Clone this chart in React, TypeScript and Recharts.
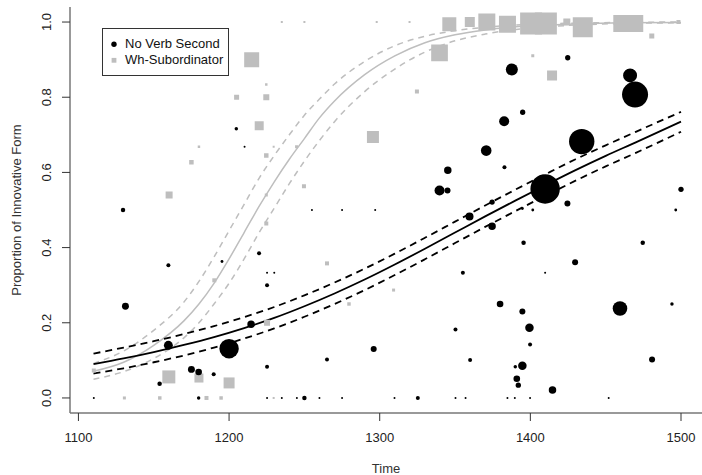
import React from 'react';
import { ComposedChart, Scatter, Line, XAxis, YAxis, ZAxis, Legend } from 'recharts';

const FONT = '"Liberation Sans", Arial, Helvetica, sans-serif';

const xTicks = [1100, 1200, 1300, 1400, 1500];
const yTicks = [0, 0.2, 0.4, 0.6, 0.8, 1.0];
const seriesNames = ['No Verb Second', 'Wh-Subordinator'];

// [year, proportion, tokens]
const noV2Points: [number, number, number][] = [
  [1129.6, 0.5, 5], [1204.8, 0.716, 3], [1131.2, 0.244, 12], [1159.7, 0.353, 4],
  [1195.3, 0.363, 2], [1219.9, 0.385, 4], [1225.2, 0.333, 1], [1230.0, 0.333, 1],
  [1225.2, 0.3, 4], [1159.7, 0.14, 20], [1214.6, 0.196, 14], [1200.0, 0.131, 94],
  [1175.0, 0.076, 12], [1179.8, 0.069, 11], [1189.8, 0.063, 4], [1153.9, 0.038, 5],
  [1225.2, 0.083, 4], [1265.0, 0.102, 4], [1255.0, 0.5, 1], [1275.0, 0.5, 1],
  [1210.3, 0.668, 1], [1297.0, 0.5, 1], [1296.0, 0.13, 9], [1355.2, 0.333, 4],
  [1350.3, 0.182, 4], [1360.0, 0.101, 4], [1379.9, 0.25, 11], [1394.7, 0.23, 9],
  [1399.4, 0.187, 18], [1399.8, 0.142, 4], [1394.7, 0.086, 18], [1390.0, 0.083, 3],
  [1391.0, 0.051, 11], [1392.0, 0.034, 7], [1414.7, 0.021, 14], [1459.5, 0.238, 53],
  [1494.0, 0.25, 3], [1480.8, 0.102, 9], [1429.7, 0.361, 9], [1409.8, 0.333, 1],
  [1395.5, 0.413, 5], [1474.6, 0.413, 5], [1374.6, 0.457, 14], [1359.6, 0.483, 16],
  [1374.6, 0.521, 7], [1394.7, 0.504, 2], [1401.6, 0.5, 2], [1424.6, 0.517, 9],
  [1409.8, 0.556, 216], [1500.0, 0.555, 7], [1496.5, 0.5, 2], [1339.7, 0.552, 25],
  [1345.0, 0.552, 9], [1345.2, 0.606, 14], [1382.8, 0.614, 4], [1370.7, 0.658, 28],
  [1434.1, 0.682, 161], [1382.6, 0.736, 25], [1394.9, 0.76, 7], [1469.5, 0.807, 169],
  [1466.2, 0.858, 49], [1387.7, 0.874, 36], [1424.8, 0.905, 7],
  [1110.2, 0, 1], [1179.8, 0, 3], [1225.2, 0, 1], [1235.0, 0, 1], [1245.0, 0, 1],
  [1250.0, 0, 5], [1260.0, 0, 1], [1275.0, 0, 1], [1309.8, 0, 1], [1325.3, 0, 4],
  [1350.3, 0, 1], [1357.0, 0, 1], [1384.8, 0, 1], [1389.7, 0, 1], [1399.8, 0, 1],
  [1452.0, 0, 1],
];

const whPoints: [number, number, number][] = [
  [1215.0, 0.9, 225], [1205.0, 0.8, 25], [1224.7, 0.8, 36], [1224.7, 0.834, 6],
  [1220.0, 0.724, 81], [1180.0, 0.668, 6], [1175.0, 0.627, 20], [1160.2, 0.54, 49],
  [1224.7, 0.645, 20], [1249.7, 0.563, 16], [1244.8, 0.668, 9], [1224.7, 0.54, 9],
  [1224.7, 0.464, 16], [1229.6, 0.668, 4], [1235.0, 1, 4], [1250.0, 1, 4],
  [1298.0, 1, 4], [1319.8, 1, 4], [1190.2, 0.313, 16], [1265.0, 0.358, 16],
  [1279.6, 0.25, 12], [1309.2, 0.287, 9], [1225.2, 0.2, 36], [1160.0, 0.056, 169],
  [1180.0, 0.053, 81], [1200.0, 0.04, 121], [1110.2, 0.073, 16],
  [1130.5, 0, 9], [1154.0, 0, 12], [1185.0, 0, 16], [1194.7, 0, 12], [1229.6, 0, 4],
  [1339.7, 0.918, 279], [1401.6, 0.91, 9], [1414.4, 0.858, 100], [1324.7, 0.815, 16],
  [1295.5, 0.694, 144], [1480.6, 0.963, 25], [1346.2, 0.994, 196], [1359.8, 1.0, 100],
  [1371.1, 1.0, 289], [1384.8, 0.994, 289], [1400.5, 0.996, 484], [1410.3, 0.996, 484],
  [1424.2, 1.0, 49], [1434.8, 0.986, 400], [1460.7, 0.996, 289], [1469.3, 0.996, 289],
  [1498.3, 1.0, 16],
];

// fitted curves with confidence band
const noV2Years = [1110, 1130, 1150, 1170, 1190, 1210, 1230, 1250, 1270, 1290, 1310, 1330, 1350, 1370, 1390, 1410, 1430, 1450, 1470, 1500];
const noV2Fit = [0.09, 0.105, 0.122, 0.141, 0.162, 0.186, 0.213, 0.244, 0.278, 0.315, 0.355, 0.397, 0.44, 0.483, 0.525, 0.566, 0.606, 0.644, 0.68, 0.735];
const noV2Lo = [0.065, 0.079, 0.095, 0.113, 0.134, 0.158, 0.185, 0.216, 0.25, 0.287, 0.327, 0.369, 0.412, 0.455, 0.497, 0.538, 0.578, 0.616, 0.652, 0.708];
const noV2Hi = [0.118, 0.134, 0.151, 0.17, 0.191, 0.215, 0.242, 0.273, 0.307, 0.344, 0.384, 0.426, 0.469, 0.512, 0.554, 0.595, 0.635, 0.672, 0.708, 0.761];

const whYears = [1110, 1130, 1150, 1170, 1180, 1190, 1200, 1210, 1220, 1230, 1240, 1250, 1260, 1270, 1290, 1310, 1330, 1350, 1370, 1400, 1430, 1460, 1500];
const whFit = [0.071, 0.095, 0.14, 0.205, 0.25, 0.305, 0.37, 0.44, 0.51, 0.575, 0.635, 0.69, 0.745, 0.79, 0.86, 0.91, 0.945, 0.966, 0.979, 0.99, 0.995, 0.998, 0.999];
const whLo = [0.05, 0.07, 0.105, 0.16, 0.2, 0.25, 0.305, 0.37, 0.44, 0.505, 0.57, 0.63, 0.685, 0.735, 0.815, 0.875, 0.92, 0.95, 0.968, 0.984, 0.992, 0.996, 0.998];
const whHi = [0.092, 0.125, 0.18, 0.255, 0.31, 0.375, 0.445, 0.515, 0.585, 0.645, 0.7, 0.752, 0.795, 0.835, 0.895, 0.937, 0.962, 0.977, 0.986, 0.994, 0.997, 0.999, 1.0];

const noV2Data = noV2Points.map(([year, p, n]) => ({ year, p, n }));
const whData = whPoints.map(([year, p, n]) => ({ year, p, n }));
const noV2Curve = noV2Years.map((year, i) => ({ year, fit: noV2Fit[i], lo: noV2Lo[i], hi: noV2Hi[i] }));
const whCurve = whYears.map((year, i) => ({ year, fit: whFit[i], lo: whLo[i], hi: whHi[i] }));

const XTick = (props: any) => {
  const { x, y, payload } = props;
  return (
    <text x={x} y={y + 19} textAnchor="middle" fontSize={13} fontFamily={FONT} fill="#222">
      {payload.value}
    </text>
  );
};

const YTick = (props: any) => {
  const { x, y, payload } = props;
  const bx = x - 8.7;
  return (
    <text x={bx} y={y} textAnchor="middle" fontSize={13} fontFamily={FONT} fill="#222"
      transform={`rotate(-90, ${bx}, ${y})`}>
      {payload.value.toFixed(1)}
    </text>
  );
};

const XTitle = () => (
  <text x={386} y={473} textAnchor="middle" fontSize={13} fontFamily={FONT} fill="#333">Time</text>
);

const YTitle = () => (
  <text x={21} y={210} textAnchor="middle" fontSize={13} fontFamily={FONT} fill="#333"
    transform="rotate(-90, 21, 210)">
    Proportion of Innovative Form
  </text>
);

const LegendBox = () => (
  <div style={{ position: 'relative', width: 127, height: 48, boxSizing: 'border-box', border: '1px solid #333', background: '#fff', fontFamily: FONT, fontSize: 13, color: '#111' }}>
    <svg width={12} height={40} style={{ position: 'absolute', left: 5, top: 2 }}>
      <circle cx={6} cy={13.3} r={2.7} fill="#000" />
      <rect x={3.6} y={26.9} width={4.8} height={4.8} fill="#bebebe" />
    </svg>
    <div style={{ position: 'absolute', left: 22, top: 7, lineHeight: '16px', whiteSpace: 'nowrap' }}>{seriesNames[0]}</div>
    <div style={{ position: 'absolute', left: 22, top: 23, lineHeight: '16px', whiteSpace: 'nowrap' }}>{seriesNames[1]}</div>
  </div>
);

export default function App() {
  return (
    <div style={{ position: 'absolute', left: 0, top: 0, width: 702, height: 475, overflow: 'hidden', background: '#fff' }}>
      <ComposedChart width={720} height={475} margin={{ top: 7, right: 15.5, left: 10, bottom: 0 }}>
        <XAxis xAxisId="top" orientation="top" type="number" domain={[1094.4, 1515.6]} height={0}
          tick={false} tickLine={false} axisLine={{ stroke: '#333', strokeWidth: 1.5 }} allowDataOverflow />
        <XAxis dataKey="year" type="number" domain={[1094.4, 1515.6]} ticks={xTicks} interval={0}
          allowDataOverflow height={62} tickSize={8} tickLine={{ stroke: '#333' }}
          axisLine={{ stroke: '#777', strokeWidth: 1.5 }} tick={<XTick />} label={<XTitle />} />
        <YAxis type="number" domain={[-0.04, 1.04]} ticks={yTicks} interval={0} allowDataOverflow
          width={60} tickSize={8} tickLine={{ stroke: '#333' }}
          axisLine={{ stroke: '#777', strokeWidth: 1.5 }} tick={<YTick />} label={<YTitle />} />
        <ZAxis zAxisId="v2" dataKey="n" type="number" domain={[0, 216]} range={[0, 679]} />
        <ZAxis zAxisId="wh" dataKey="n" type="number" domain={[0, 484]} range={[0, 484]} />

        <Scatter name={seriesNames[1]} data={whData} dataKey="p" zAxisId="wh" shape="square"
          fill="#bebebe" isAnimationActive={false} />
        <Scatter name={seriesNames[0]} data={noV2Data} dataKey="p" zAxisId="v2" shape="circle"
          fill="#000" isAnimationActive={false} />

        <Line data={whCurve} dataKey="lo" type="monotone" stroke="#bebebe" strokeWidth={1.5}
          strokeDasharray="6 5" dot={false} legendType="none" isAnimationActive={false} />
        <Line data={whCurve} dataKey="hi" type="monotone" stroke="#bebebe" strokeWidth={1.5}
          strokeDasharray="6 5" dot={false} legendType="none" isAnimationActive={false} />
        <Line data={whCurve} dataKey="fit" type="monotone" stroke="#bebebe" strokeWidth={1.5}
          dot={false} legendType="none" isAnimationActive={false} />

        <Line data={noV2Curve} dataKey="lo" type="monotone" stroke="#000" strokeWidth={1.8}
          strokeDasharray="7 5" dot={false} legendType="none" isAnimationActive={false} />
        <Line data={noV2Curve} dataKey="hi" type="monotone" stroke="#000" strokeWidth={1.8}
          strokeDasharray="7 5" dot={false} legendType="none" isAnimationActive={false} />
        <Line data={noV2Curve} dataKey="fit" type="monotone" stroke="#000" strokeWidth={1.8}
          dot={false} legendType="none" isAnimationActive={false} />

        <Legend content={<LegendBox />} layout="vertical" align="center" verticalAlign="middle"
          wrapperStyle={{ left: 102, top: 28, width: 127, height: 48 }} />
      </ComposedChart>
    </div>
  );
}
